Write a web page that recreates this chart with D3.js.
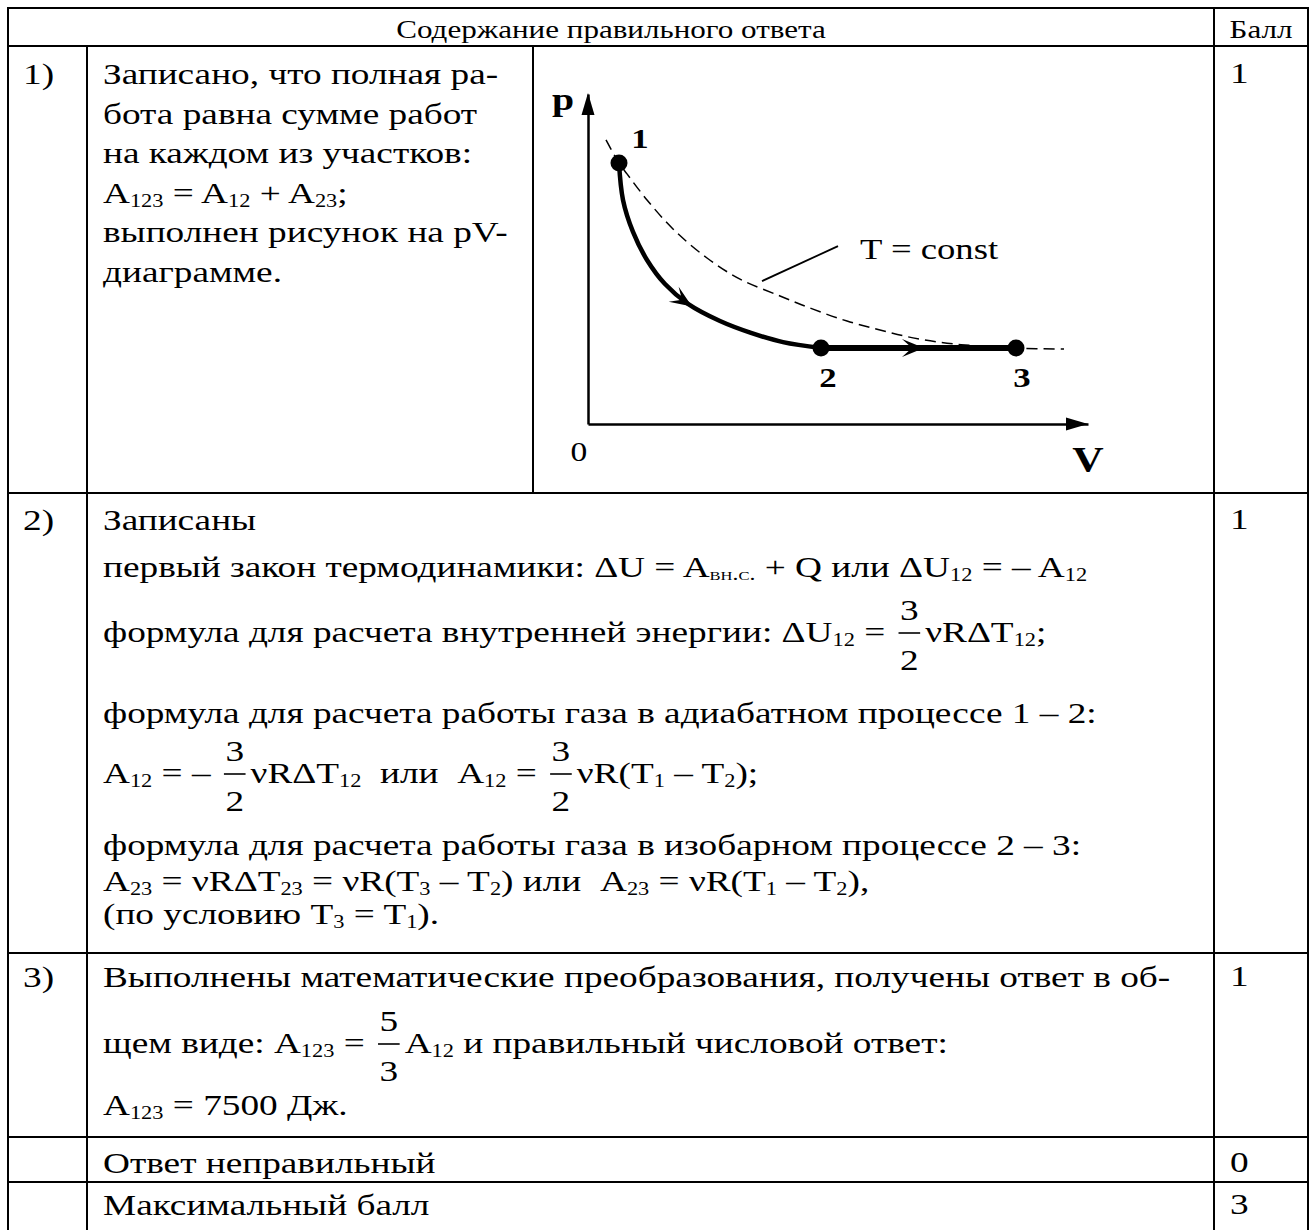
<!DOCTYPE html>
<html>
<head>
<meta charset="utf-8">
<script src="https://cdn.jsdelivr.net/npm/d3@7"></script>
<style>
    body { margin: 0; background: #fff; }
    text { font-family: "Liberation Serif", "Times New Roman", serif; fill: #000; }
</style>
</head>
<body>
<svg id="chart" width="1314" height="1230"></svg>
<script>
// ---- table content ----
const headers = ["Содержание правильного ответа", "Балл"];
const rowNumbers = ["1)", "2)", "3)", "", ""];
const scores = ["1", "1", "1", "0", "3"];

const row1Lines = [
    "Записано, что полная ра-",
    "бота равна сумме работ",
    "на каждом из участков:",
    "A_{123} = A_{12} + A_{23};",
    "выполнен рисунок на pV-",
    "диаграмме."
];
const row2Lines = [
    "Записаны",
    "первый закон термодинамики: ΔU = A_{вн.с.} + Q или ΔU_{12} = – A_{12}",
    "формула для расчета внутренней энергии: ΔU_{12} = [3/2]νRΔT_{12};",
    "формула для расчета работы газа в адиабатном процессе 1 – 2:",
    "A_{12} = – [3/2]νRΔT_{12}  или  A_{12} = [3/2]νR(T_{1} – T_{2});",
    "формула для расчета работы газа в изобарном процессе 2 – 3:",
    "A_{23} = νRΔT_{23} = νR(T_{3} – T_{2}) или  A_{23} = νR(T_{1} – T_{2}),",
    "(по условию T_{3} = T_{1})."
];
const row3Lines = [
    "Выполнены математические преобразования, получены ответ в об-",
    "щем виде: A_{123} = [5/3]A_{12} и правильный числовой ответ:",
    "A_{123} = 7500 Дж."
];
const row4Lines = ["Ответ неправильный"];
const row5Lines = ["Максимальный балл"];

// ---- pV diagram (V, p in arbitrary units) ----
const adiabat12 = [[0.62, 7.91], [0.70, 6.79], [0.90, 5.82], [1.18, 4.97], [1.54, 4.24],
                   [2.00, 3.64], [2.64, 3.12], [3.26, 2.76], [3.90, 2.48], [4.66, 2.30]];
const isotherm = [[0.36, 8.61], [0.62, 7.91], [0.78, 7.58], [1.18, 6.79], [1.70, 5.91],
                  [2.38, 5.03], [3.04, 4.39], [3.84, 3.88], [4.50, 3.48], [5.18, 3.12],
                  [5.84, 2.85], [6.50, 2.61], [7.18, 2.45], [7.84, 2.36], [8.56, 2.30], [9.52, 2.27]];
const states = [{name: "1", V: 0.62, p: 7.91}, {name: "2", V: 4.66, p: 2.30}, {name: "3", V: 8.56, p: 2.30}];
const leader = [[3.48, 4.33], [5.00, 5.39]];
const isoLabel = "T = const";
const arrowAt = [2.08, 6.72];   // V where the direction arrows sit

const svg = d3.select("#chart");
const F = 30, SUBF = 18;

// horizontal stretch of the scanned page: fit one full line to its width
const calib = svg.append("text").attr("font-size", F).style("white-space", "pre").text(row2Lines[3]);
const SX = (1097 - 103) / calib.node().getComputedTextLength();
calib.remove();

// ---- text helpers ----
function put(g, x, y, s, size, opt) {
    opt = opt || {};
    const t = g.append("text")
        .attr("transform", "translate(" + x + "," + y + ") scale(" + SX + ",1)")
        .attr("font-size", size)
        .attr("xml:space", "preserve")
        .style("white-space", "pre")
        .attr("text-anchor", opt.anchor || "start")
        .attr("font-weight", opt.bold ? "bold" : null)
        .style("font-variant", opt.sc ? "small-caps" : null)
        .text(s);
    return t.node().getComputedTextLength() * SX;
}

function parse(src) {
    const re = /_\{([^}]*)\}|\[(\d+)\/(\d+)\]/g;
    const out = [];
    let last = 0, m;
    while ((m = re.exec(src))) {
        if (m.index > last) out.push({type: "t", s: src.slice(last, m.index)});
        if (m[1] !== undefined) out.push({type: /\d/.test(m[1]) ? "sub" : "sc", s: m[1]});
        else out.push({type: "frac", n: m[2], d: m[3]});
        last = re.lastIndex;
    }
    if (last < src.length) out.push({type: "t", s: src.slice(last)});
    return out;
}

function drawLine(g, x0, base, src) {
    let x = x0;
    parse(src).forEach(function (p) {
        if (p.type === "t") x += put(g, x, base, p.s, F);
        else if (p.type === "sub") x += put(g, x, base + 4, p.s, SUBF);
        else if (p.type === "sc") x += put(g, x, base + 3, p.s, 19, {sc: true});
        else {
            x += 4;
            const probe = g.append("text").attr("font-size", F).text(p.n);
            const w = probe.node().getComputedTextLength() * SX + 3;
            probe.remove();
            put(g, x + w / 2, base - 22, p.n, F, {anchor: "middle"});
            put(g, x + w / 2, base + 28, p.d, F, {anchor: "middle"});
            g.append("line").attr("x1", x).attr("x2", x + w)
                .attr("y1", base - 9).attr("y2", base - 9)
                .attr("stroke", "#000").attr("stroke-width", 1.6);
            x += w + 5;
        }
    });
}

// ---- table grid ----
const L = 8, C1 = 87, C2 = 533, C3 = 1214, R = 1308;
const rowsY = [8, 46, 493, 953, 1137, 1182];
const grid = svg.append("g").attr("stroke", "#000").attr("stroke-width", 2);
rowsY.forEach(function (yy) {
    grid.append("line").attr("x1", L - 1).attr("x2", R + 1).attr("y1", yy).attr("y2", yy);
});
[[L, 7], [R, 7], [C3, 8], [C1, 46]].forEach(function (d) {
    grid.append("line").attr("x1", d[0]).attr("x2", d[0]).attr("y1", d[1]).attr("y2", 1230);
});
grid.append("line").attr("x1", C2).attr("x2", C2).attr("y1", 46).attr("y2", 493);

// header
const hg = svg.append("g");
put(hg, (L + C3) / 2, 38, headers[0], 25, {anchor: "middle"});
put(hg, (C3 + R) / 2, 38, headers[1], 25, {anchor: "middle"});

// rows
const body = svg.append("g");
const numBase = [84, 530, 987, 1173, 1215];
rowNumbers.forEach(function (s, i) { if (s) put(body, 23, numBase[i], s, F); });
scores.forEach(function (s, i) { put(body, 1230, numBase[i] - 1, s, F); });

const rowLines = [row1Lines, row2Lines, row3Lines, row4Lines, row5Lines];
const baselines = [
    [84, 123.5, 163, 202.5, 242, 281.5],
    [530, 577, 642, 723, 783, 855, 891, 924],
    [987, 1053, 1115],
    [1173],
    [1215]
];
rowLines.forEach(function (lines, i) {
    lines.forEach(function (src, j) { drawLine(body, 103, baselines[i][j], src); });
});

// ---- pV diagram ----
const x = d3.scaleLinear().domain([0, 10]).range([588, 1088]);
const y = d3.scaleLinear().domain([0, 10]).range([424, 94]);
const pv = svg.append("g");

pv.append("g").attr("transform", "translate(0," + y(0) + ")")
    .call(d3.axisBottom(x).tickValues([]).tickSizeOuter(0));
pv.append("g").attr("transform", "translate(" + x(0) + ",0)")
    .call(d3.axisLeft(y).tickValues([]).tickSizeOuter(0));
pv.selectAll(".domain").attr("stroke", "#000").attr("stroke-width", 2.5);

pv.append("path").attr("fill", "#000")
    .attr("d", "M" + x(10) + "," + y(0) + "l-22,-6.5v13z");
pv.append("path").attr("fill", "#000")
    .attr("d", "M" + x(0) + "," + (y(10) - 1) + "l-6.5,22h13z");

const line = d3.line().x(d => x(d[0])).y(d => y(d[1]));
const smooth = d3.line().x(d => x(d[0])).y(d => y(d[1])).curve(d3.curveCatmullRom.alpha(0.5));

pv.append("path").datum(isotherm).attr("d", smooth)
    .attr("fill", "none").attr("stroke", "#000").attr("stroke-width", 1.5)
    .attr("stroke-dasharray", "11,6");

const adPath = pv.append("path").datum(adiabat12).attr("d", smooth)
    .attr("fill", "none").attr("stroke", "#000").attr("stroke-width", 4.5);
const isoPath = pv.append("path").datum([[states[1].V, states[1].p], [states[2].V, states[2].p]])
    .attr("d", line).attr("fill", "none").attr("stroke", "#000").attr("stroke-width", 6);

pv.append("path").datum(leader).attr("d", line)
    .attr("fill", "none").attr("stroke", "#000").attr("stroke-width", 1.8);

function arrowOn(pathSel, V) {
    const node = pathSel.node(), total = node.getTotalLength(), tx = x(V);
    let lo = 0, hi = total;
    for (let k = 0; k < 40; k++) {
        const mid = (lo + hi) / 2;
        if (node.getPointAtLength(mid).x < tx) lo = mid; else hi = mid;
    }
    const p = node.getPointAtLength(lo);
    const a = node.getPointAtLength(Math.max(0, lo - 6));
    const ang = Math.atan2(p.y - a.y, p.x - a.x) * 180 / Math.PI;
    pv.append("path").attr("fill", "#000")
        .attr("transform", "translate(" + p.x + "," + p.y + ") rotate(" + ang + ")")
        .attr("d", "M0,0L-22,-9L-12,0L-22,9Z");
}
arrowOn(adPath, arrowAt[0]);
arrowOn(isoPath, arrowAt[1]);

pv.selectAll("circle.state").data(states).enter().append("circle")
    .attr("class", "state")
    .attr("cx", d => x(d.V)).attr("cy", d => y(d.p)).attr("r", 8.5).attr("fill", "#000");

const labelOff = {"1": [21, -15], "2": [7, 39], "3": [6, 39]};
states.forEach(function (d) {
    const o = labelOff[d.name];
    put(pv, x(d.V) + o[0], y(d.p) + o[1], d.name, 28, {anchor: "middle", bold: true});
});
put(pv, x(0) - 25, y(10) + 16, "p", 32, {anchor: "middle", bold: true});
put(pv, x(0) - 9, y(0) + 37, "0", 27, {anchor: "middle"});
put(pv, x(10), y(0) + 48, "V", 35, {anchor: "middle", bold: true});
put(pv, x(leader[1][0]) + 22, y(leader[1][1]) + 13, isoLabel, 29.5);
</script>
</body>
</html>
